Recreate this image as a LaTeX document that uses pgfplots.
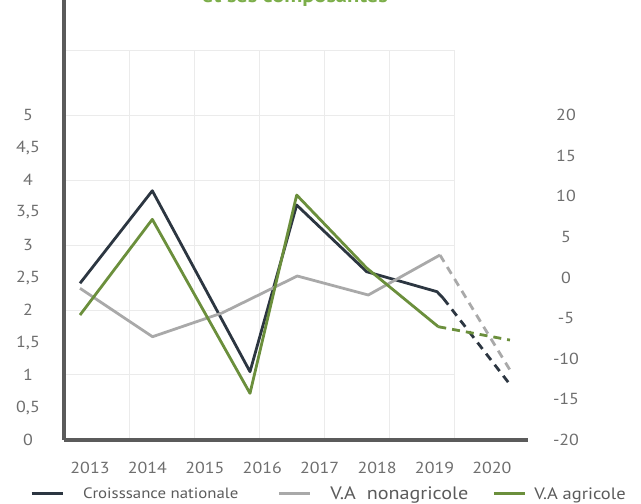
\documentclass[border=0pt]{standalone}
\usepackage{fontspec}
\setmainfont{PT Sans}[FakeStretch=1.12]
\usepackage{pgfplots}
\pgfplotsset{compat=1.18}
\definecolor{navyline}{HTML}{2C3641}
\definecolor{grayline}{HTML}{A9A9A9}
\definecolor{greenline}{HTML}{6B8F3C}
\definecolor{axisgray}{HTML}{5B5B5B}
\definecolor{gridgray}{HTML}{EBEBEB}
\definecolor{tickgray}{HTML}{6E6E6E}
\definecolor{titlegreen}{HTML}{7CAE4A}
\begin{document}
\begin{tikzpicture}
\useasboundingbox (0,0) rectangle (641pt,504pt);
% title (cut by the page edge, as in the reference)
\node[anchor=base east, text=titlegreen, font=\bfseries\fontsize{20}{24}\selectfont, inner sep=0pt] at (388pt,501.5pt) {et ses composantes};
% grid
\begin{axis}[
  at={(64pt,64pt)}, anchor=south west,
  scale only axis, width=391pt, height=390pt,
  xmin=0, xmax=6, ymin=0, ymax=6,
  xtick={1,...,6}, ytick={1,...,6},
  xticklabels={}, yticklabels={},
  grid=major, major grid style={draw=gridgray, line width=1pt},
  axis line style={draw=none}, tick style={draw=none},
]
\end{axis}
% right-hand scale
\begin{axis}[
  at={(64pt,64pt)}, anchor=south west,
  scale only axis, width=464pt, height=440pt,
  xmin=0, xmax=1, ymin=-20, ymax=34.16,
  axis x line=none, axis y line*=right,
  y axis line style={draw=none}, tick style={draw=none}, major tick length=0pt,
  ytick={-20,-15,...,20},
  yticklabel style={anchor=center, xshift=38pt, font=\fontsize{16}{18}\selectfont, text=tickgray},
  /pgf/number format/assume math mode=true,
]
\end{axis}
% main axis with data
\begin{axis}[
  at={(64pt,64pt)}, anchor=south west,
  scale only axis, width=464pt, height=440pt,
  xmin=2012.547, xmax=2020.627, ymin=0, ymax=6.77,
  axis x line=bottom, axis y line=left,
  axis line style={-, line width=3.5pt, draw=axisgray},
  xtick={2013,...,2020},
  ytick={0,0.5,...,5},
  yticklabels={0,{0,5},1,{1,5},2,{2,5},3,{3,5},4,{4,5},5},
  tick style={draw=none}, major tick length=0pt,
  ticklabel style={font=\fontsize{16}{18}\selectfont, text=tickgray},
  xticklabel style={anchor=center, yshift=-28pt},
  yticklabel style={anchor=center, xshift=-36pt},
  /pgf/number format/assume math mode=true,
  /pgf/number format/1000 sep={},
  clip=false,
  legend columns=3,
  legend style={at={(-0.0733,-0.1227)}, anchor=west, draw=none, fill=none,
    inner sep=0pt, column sep=0pt,
    nodes={inner sep=0pt, text=axisgray, anchor=west}},
  legend image code/.code={\draw[#1, line width=3pt, solid] (0pt,0pt) -- (31pt,0pt);},
]
% Croissance nationale
\addplot[navyline, line width=2.8pt, line join=round] coordinates {
 (2012.826,2.411) (2014.085,3.835) (2015.786,1.051) (2016.599,3.615)
 (2017.818,2.589) (2019.042,2.282) (2019.152,2.180)};
\addlegendentry{\hspace*{19pt}\fontsize{15}{17}\selectfont Croisssance nationale\hspace*{39pt}}
% V.A nonagricole
\addplot[grayline, line width=2.8pt, line join=round] coordinates {
 (2012.826,2.334) (2014.088,1.589) (2015.298,1.954) (2016.610,2.523)
 (2017.846,2.231) (2019.094,2.846)};
\addlegendentry{\hspace*{19pt}\fontsize{18}{20}\selectfont V.A\ \ nonagricole\hspace*{24pt}}
% V.A agricole
\addplot[greenline, line width=2.8pt, line join=round] coordinates {
 (2012.826,1.923) (2014.085,3.395) (2015.786,0.718) (2016.599,3.769)
 (2017.818,2.646) (2019.065,1.743)};
\addlegendentry{\hspace*{8pt}\fontsize{16.5}{20}\selectfont V.A agricole}
% projections 2020
\addplot[navyline, line width=2.8pt, dash pattern=on 8pt off 6pt, forget plot] coordinates {
 (2019.152,2.180) (2020.343,0.820)};
\addplot[grayline, line width=2.8pt, dash pattern=on 8pt off 6pt, forget plot] coordinates {
 (2019.094,2.846) (2020.313,1.077)};
\addplot[greenline, line width=2.8pt, dash pattern=on 8pt off 6pt, forget plot] coordinates {
 (2019.065,1.743) (2020.313,1.538)};
\end{axis}
\end{tikzpicture}
\end{document}
